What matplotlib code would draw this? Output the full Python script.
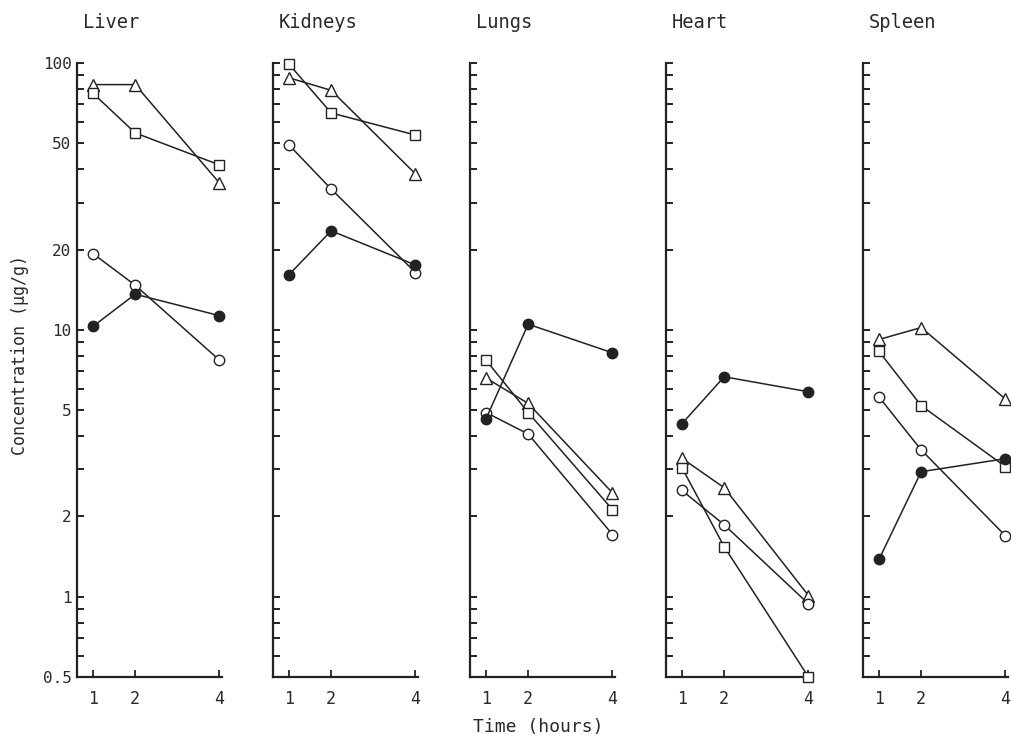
import numpy as np
import matplotlib
matplotlib.use('Agg')
from matplotlib import pyplot as plt
from matplotlib.ticker import FixedLocator, NullFormatter

hours = [1, 2, 4]
organs = ['Liver', 'Kidneys', 'Lungs', 'Heart', 'Spleen']

# tissue concentrations (ug/g) per organ, one list per dose group
tri = {
    'Liver':   [83, 83, 35.5],
    'Kidneys': [88, 79, 38.4],
    'Lungs':   [6.6, 5.3, 2.45],
    'Heart':   [3.3, 2.56, 1.01],
    'Spleen':  [9.2, 10.2, 5.5],
}
sq = {
    'Liver':   [77, 54.7, 41.5],
    'Kidneys': [99, 65, 53.7],
    'Lungs':   [7.7, 4.9, 2.12],
    'Heart':   [3.04, 1.54, 0.5],
    'Spleen':  [8.3, 5.2, 3.07],
}
open_c = {
    'Liver':   [19.3, 14.7, 7.7],
    'Kidneys': [49.3, 33.7, 16.4],
    'Lungs':   [4.9, 4.07, 1.71],
    'Heart':   [2.5, 1.86, 0.94],
    'Spleen':  [5.6, 3.55, 1.69],
}
filled_c = {
    'Liver':   [10.3, 13.6, 11.3],
    'Kidneys': [16.1, 23.5, 17.5],
    'Lungs':   [4.64, 10.5, 8.2],
    'Heart':   [4.45, 6.67, 5.86],
    'Spleen':  [1.38, 2.94, 3.29],
}

ylabels = [0.5, 1, 2, 5, 10, 20, 50, 100]
ylabel_txt = ['0.5', '1', '2', '5', '10', '20', '50', '100']

ink = '#222222'
txt = '#2a2a2a'
mono = 'DejaVu Sans Mono'
W, H = 1011, 739
fig = plt.figure(figsize=(W / 100, H / 100), dpi=100)

spine_x = [77, 273, 470, 666, 863]
y_bot, y_top = 677, 63
ax_w = 145

all_ticks = [m * 10.0 ** e for e in (-1, 0, 1) for m in range(1, 10)] + [100]
all_ticks = [t for t in all_ticks if 0.5 <= t <= 100]
minor = [t for t in all_ticks if not any(abs(t - v) < 1e-9 for v in ylabels)]

for i, org in enumerate(organs):
    ax = fig.add_axes([spine_x[i] / W, (H - y_bot) / H, ax_w / W, (y_bot - y_top) / H])
    ax.set_yscale('log')
    ax.set_ylim(0.5, 100)
    ax.set_xlim(0.62, 4.06)
    for s in ['top', 'right']:
        ax.spines[s].set_visible(False)
    for s in ['left', 'bottom']:
        ax.spines[s].set_linewidth(1.6)
        ax.spines[s].set_color(ink)

    kw = dict(color=ink, lw=1.1, clip_on=False, zorder=3)
    ax.plot(hours, tri[org], marker='^', ms=8, mfc='white', mec=ink, mew=1.0, **kw)
    ax.plot(hours, sq[org], marker='s', ms=7, mfc='white', mec=ink, mew=1.0, **kw)
    ax.plot(hours, open_c[org], marker='o', ms=7.5, mfc='white', mec=ink, mew=1.0, **kw)
    ax.plot(hours, filled_c[org], marker='o', ms=7.5, mfc=ink, mec=ink, mew=1.0, **kw)

    ax.yaxis.set_major_locator(FixedLocator(ylabels))
    ax.yaxis.set_minor_locator(FixedLocator(minor))
    ax.yaxis.set_minor_formatter(NullFormatter())
    if i == 0:
        ax.set_yticklabels(ylabel_txt, family=mono, fontsize=11.5, color=txt)
    else:
        ax.set_yticklabels([])
    ax.tick_params(axis='y', which='both', direction='in', length=5, width=1.4,
                   color=ink, pad=4)
    ax.set_xticks(hours)
    ax.set_xticklabels([str(h) for h in hours], family=mono, fontsize=12, color=txt)
    ax.tick_params(axis='x', direction='in', length=5, width=1.3, color=ink, pad=9)

    fig.text((spine_x[i] + 6) / W, 1 - 23 / H, org, family=mono, fontsize=13.5,
             color=txt, ha='left', va='center')

fig.text(20 / W, 1 - 355 / H, 'Concentration (\u03bcg/g)', rotation=90, family=mono,
         fontsize=12, color=txt, ha='center', va='center')
fig.text(538 / W, 1 - 727 / H, 'Time (hours)', family=mono, fontsize=13,
         color=txt, ha='center', va='center')

fig.savefig('out.png', dpi=100)
